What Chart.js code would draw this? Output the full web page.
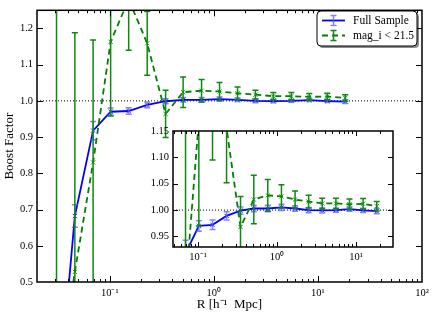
<!DOCTYPE html>
<html>
<head>
<meta charset="utf-8">
<script src="https://cdn.jsdelivr.net/npm/chart.js@4.4.1/dist/chart.umd.min.js"></script>
<style>
  body { margin: 0; background: #fff; }
  #wrap { position: relative; width: 436px; height: 322px; }
  #wrap canvas { position: absolute; left: 0; top: 0; }
</style>
</head>
<body>
<div id="wrap">
  <canvas id="main" width="436" height="322"></canvas>
  <canvas id="inset" width="436" height="322"></canvas>
</div>
<script>
// radius bins (h^-1 Mpc)
const radius = [0.0308, 0.0462, 0.0692, 0.102, 0.152, 0.229, 0.344, 0.507, 0.762, 1.135, 1.69, 2.51, 3.73, 5.56, 8.26, 12.3, 18.3];

// Full Sample
const fullBoost = [0.11, 0.682, 0.918, 0.970, 0.972, 0.989, 0.999, 1.003, 1.003, 1.005, 1.003, 1.000, 0.9995, 1.000, 1.002, 0.9995, 0.998];
const fullErr = [0.05, 0.031, 0.025, 0.010, 0.009, 0.008, 0.007, 0.006, 0.006, 0.006, 0.005, 0.005, 0.005, 0.004, 0.004, 0.004, 0.005];

// mag_i < 21.5 (as read on the main panel)
const magBoost = [0.2, 0.528, 0.83, 1.163, 1.28, 1.159, 0.964, 1.024, 1.028, 1.026, 1.021, 1.017, 1.013, 1.013, 1.011, 1.012, 1.008];
const magErr = [1.1, 0.66, 0.338, 0.205, 0.14, 0.088, 0.065, 0.042, 0.031, 0.025, 0.017, 0.012, 0.010, 0.010, 0.009, 0.009, 0.009];

// mag_i < 21.5 (as read on the inset)
const insetMagBoost = [0.2, 0.528, 0.85, 1.17, 1.26, 1.155, 0.968, 1.020, 1.028, 1.026, 1.020, 1.016, 1.0126, 1.0126, 1.011, 1.012, 1.0075];
const insetMagErr = [1.1, 0.66, 0.34, 0.2, 0.165, 0.103, 0.058, 0.046, 0.03, 0.022, 0.016, 0.012, 0.010, 0.010, 0.010, 0.010, 0.009];

const seriesLabels = ['Full Sample', 'mag_i < 21.5'];

// tick labels
const xTickValues = [0.01, 0.1, 1, 10, 100];
const xTickLabels = ['10\u207B\u00B2', '10\u207B\u00B9', '10\u2070', '10\u00B9', '10\u00B2'];
const yTicksMain = [0.5, 0.6, 0.7, 0.8, 0.9, 1.0, 1.1, 1.2];
const yTicksInset = [0.95, 1.00, 1.05, 1.10, 1.15];

const SERIF = "'Liberation Serif', 'Times New Roman', serif";

function points(ys) {
  return radius.map((r, i) => ({ x: r, y: ys[i] }));
}

function logTicks(min, max) {
  const out = [];
  for (let e = -3; e <= 3; e++) {
    for (let k = 1; k <= 9; k++) {
      const v = k * Math.pow(10, e);
      if (v >= min * 0.9999 && v <= max * 1.0001) out.push({ value: v, major: k === 1 });
    }
  }
  return out;
}

function xLabel(value) {
  const i = xTickValues.findIndex(t => Math.abs(t - value) / t < 1e-6);
  return i >= 0 ? xTickLabels[i] : '';
}

// error bars, dotted reference line, inward ticks and frame
const errorBars = {
  id: 'errorBars',
  afterDatasetDraw(chart, args) {
    const ds = chart.data.datasets[args.index];
    if (!ds.errors) return;
    const xs = chart.scales.x, ys = chart.scales.y, a = chart.chartArea;
    const ctx = chart.ctx;
    ctx.save();
    ctx.beginPath();
    ctx.rect(a.left, a.top, a.right - a.left, a.bottom - a.top);
    ctx.clip();
    ctx.strokeStyle = ds.errColor;
    ctx.lineWidth = 1.5;
    ctx.setLineDash([]);
    ds.data.forEach((p, i) => {
      const x = xs.getPixelForValue(p.x);
      const y1 = ys.getPixelForValue(p.y + ds.errors[i]);
      const y2 = ys.getPixelForValue(p.y - ds.errors[i]);
      ctx.beginPath();
      ctx.moveTo(x, y1); ctx.lineTo(x, y2);
      ctx.moveTo(x - 3, y1); ctx.lineTo(x + 3, y1);
      ctx.moveTo(x - 3, y2); ctx.lineTo(x + 3, y2);
      ctx.stroke();
    });
    ctx.restore();
  }
};

const frame = {
  id: 'frame',
  beforeDraw(chart, args, opts) {
    const a = chart.chartArea, ctx = chart.ctx;
    if (opts.fill) {
      ctx.save();
      ctx.fillStyle = '#fff';
      ctx.fillRect(a.left, a.top, a.right - a.left, a.bottom - a.top);
      ctx.restore();
    }
  },
  beforeDatasetsDraw(chart) {
    const a = chart.chartArea, ctx = chart.ctx;
    const y = chart.scales.y.getPixelForValue(1.0);
    ctx.save();
    ctx.strokeStyle = '#000';
    ctx.lineWidth = 1;
    ctx.setLineDash([1, 2]);
    ctx.beginPath();
    ctx.moveTo(a.left, y); ctx.lineTo(a.right, y);
    ctx.stroke();
    ctx.restore();
  },
  afterDatasetsDraw(chart, args, opts) {
    const a = chart.chartArea, ctx = chart.ctx;
    const xs = chart.scales.x, ys = chart.scales.y;
    ctx.save();
    ctx.strokeStyle = '#000';
    ctx.lineWidth = 1;
    ctx.beginPath();
    xs.ticks.forEach(t => {
      const x = Math.round(xs.getPixelForValue(t.value)) + 0.5;
      if (x < a.left + 1 || x > a.right - 1) return;
      const len = t.major ? opts.major : opts.minor;
      ctx.moveTo(x, a.bottom); ctx.lineTo(x, a.bottom - len);
      ctx.moveTo(x, a.top); ctx.lineTo(x, a.top + len);
    });
    ys.ticks.forEach(t => {
      const y = Math.round(ys.getPixelForValue(t.value)) + 0.5;
      if (y < a.top + 1 || y > a.bottom - 1) return;
      ctx.moveTo(a.left, y); ctx.lineTo(a.left + opts.major, y);
      ctx.moveTo(a.right, y); ctx.lineTo(a.right - opts.major, y);
    });
    ctx.stroke();
    ctx.lineWidth = 1.5;
    ctx.strokeRect(a.left, a.top, a.right - a.left, a.bottom - a.top);
    ctx.restore();
  }
};

const legendBox = {
  id: 'legendBox',
  afterDraw(chart, args, opts) {
    if (!opts.show) return;
    const ctx = chart.ctx;
    const bx = 317, by = 11, bw = 100, bh = 35;
    ctx.save();
    ctx.fillStyle = 'rgba(0,0,0,0.45)';
    ctx.beginPath(); ctx.roundRect(bx + 2, by + 2, bw, bh, 4); ctx.fill();
    ctx.fillStyle = '#fff';
    ctx.strokeStyle = '#000';
    ctx.lineWidth = 1;
    ctx.beginPath(); ctx.roundRect(bx, by, bw, bh, 4); ctx.fill(); ctx.stroke();
    chart.data.datasets.forEach((ds, i) => {
      const y = by + 9.5 + i * 15;
      ctx.strokeStyle = ds.borderColor;
      ctx.lineWidth = ds.borderWidth;
      ctx.setLineDash(ds.borderDash || []);
      ctx.beginPath(); ctx.moveTo(bx + 5, y); ctx.lineTo(bx + 28, y); ctx.stroke();
      ctx.setLineDash([]);
      ctx.strokeStyle = ds.errColor;
      ctx.lineWidth = 1.5;
      const cx = bx + 16.5;
      ctx.beginPath();
      ctx.moveTo(cx, y - 5); ctx.lineTo(cx, y + 5);
      ctx.moveTo(cx - 3, y - 5); ctx.lineTo(cx + 3, y - 5);
      ctx.moveTo(cx - 3, y + 5); ctx.lineTo(cx + 3, y + 5);
      ctx.stroke();
      ctx.fillStyle = '#000';
      ctx.font = '11.5px ' + SERIF;
      ctx.textBaseline = 'middle';
      ctx.fillText(ds.label, bx + 36, y + 0.5);
    });
    ctx.restore();
  }
};

function makeDatasets(greenY, greenErr) {
  return [
    {
      label: seriesLabels[0],
      data: points(fullBoost),
      errors: fullErr,
      errColor: 'rgba(90,90,255,0.75)',
      borderColor: '#0000ff',
      borderWidth: 1.8,
      pointStyle: 'crossRot',
      pointRadius: 3,
      pointBorderWidth: 1,
      pointBorderColor: '#3030ff',
      pointBackgroundColor: '#3030ff',
      tension: 0,
      fill: false,
      order: 1
    },
    {
      label: seriesLabels[1],
      data: points(greenY),
      errors: greenErr,
      errColor: '#108810',
      borderColor: '#008000',
      borderWidth: 1.8,
      borderDash: [6, 4],
      pointStyle: 'crossRot',
      pointRadius: 3,
      pointBorderWidth: 1,
      pointBorderColor: '#20a020',
      pointBackgroundColor: '#20a020',
      tension: 0,
      fill: false,
      order: 0
    }
  ];
}

function makeConfig(o) {
  return {
    type: 'line',
    data: { datasets: makeDatasets(o.greenY, o.greenErr) },
    options: {
      responsive: false,
      animation: false,
      devicePixelRatio: 1,
      layout: { padding: o.padding },
      events: [],
      plugins: {
        legend: { display: false },
        tooltip: { enabled: false },
        frame: { major: o.tickMajor, minor: o.tickMinor, fill: o.fill },
        legendBox: { show: o.legend }
      },
      scales: {
        x: {
          type: 'logarithmic',
          min: o.xMin,
          max: o.xMax,
          afterBuildTicks: s => { s.ticks = logTicks(o.xMin, o.xMax); },
          afterFit: s => { s.height = o.xHeight; },
          grid: { display: false, drawTicks: false },
          border: { display: false },
          ticks: {
            autoSkip: false, maxRotation: 0, minRotation: 0,
            padding: o.xPad, color: '#000',
            font: { family: SERIF, size: 10.5 },
            callback: v => xLabel(v)
          },
          title: {
            display: !!o.xTitle, text: o.xTitle, color: '#000',
            font: { family: SERIF, size: 13 },
            padding: { top: 0, bottom: 10 }
          }
        },
        y: {
          type: 'linear',
          min: o.yMin,
          max: o.yMax,
          afterBuildTicks: s => { s.ticks = o.yTicks.map(v => ({ value: v })); },
          afterFit: s => { s.width = o.yWidth; },
          grid: { display: false, drawTicks: false },
          border: { display: false },
          ticks: {
            autoSkip: false, padding: 4, color: '#000',
            font: { family: SERIF, size: 10.5 },
            callback: v => v.toFixed(o.yDigits)
          },
          title: {
            display: !!o.yTitle, text: o.yTitle, color: '#000',
            font: { family: SERIF, size: 13 },
            padding: { top: 2, bottom: 0 }
          }
        }
      }
    },
    plugins: [frame, errorBars, legendBox]
  };
}

new Chart(document.getElementById('main'), makeConfig({
  greenY: magBoost, greenErr: magErr,
  padding: { top: 5, right: 14, left: 0, bottom: 0 },
  xMin: 0.02, xMax: 100, yMin: 0.5, yMax: 1.25,
  yTicks: yTicksMain, yDigits: 1,
  xHeight: 40, yWidth: 37, xPad: 5,
  xTitle: 'R [h\u207B\u00B9  Mpc]', yTitle: 'Boost Factor',
  tickMajor: 6, tickMinor: 3, fill: false, legend: true
}));

new Chart(document.getElementById('inset'), makeConfig({
  greenY: insetMagBoost, greenErr: insetMagErr,
  padding: { top: 131, right: 43, left: 0, bottom: 0 },
  xMin: 0.048, xMax: 29.4, yMin: 0.93, yMax: 1.15,
  yTicks: yTicksInset, yDigits: 2,
  xHeight: 75, yWidth: 173, xPad: 4,
  xTitle: '', yTitle: '',
  tickMajor: 5, tickMinor: 3, fill: true, legend: false
}));
</script>
</body>
</html>
